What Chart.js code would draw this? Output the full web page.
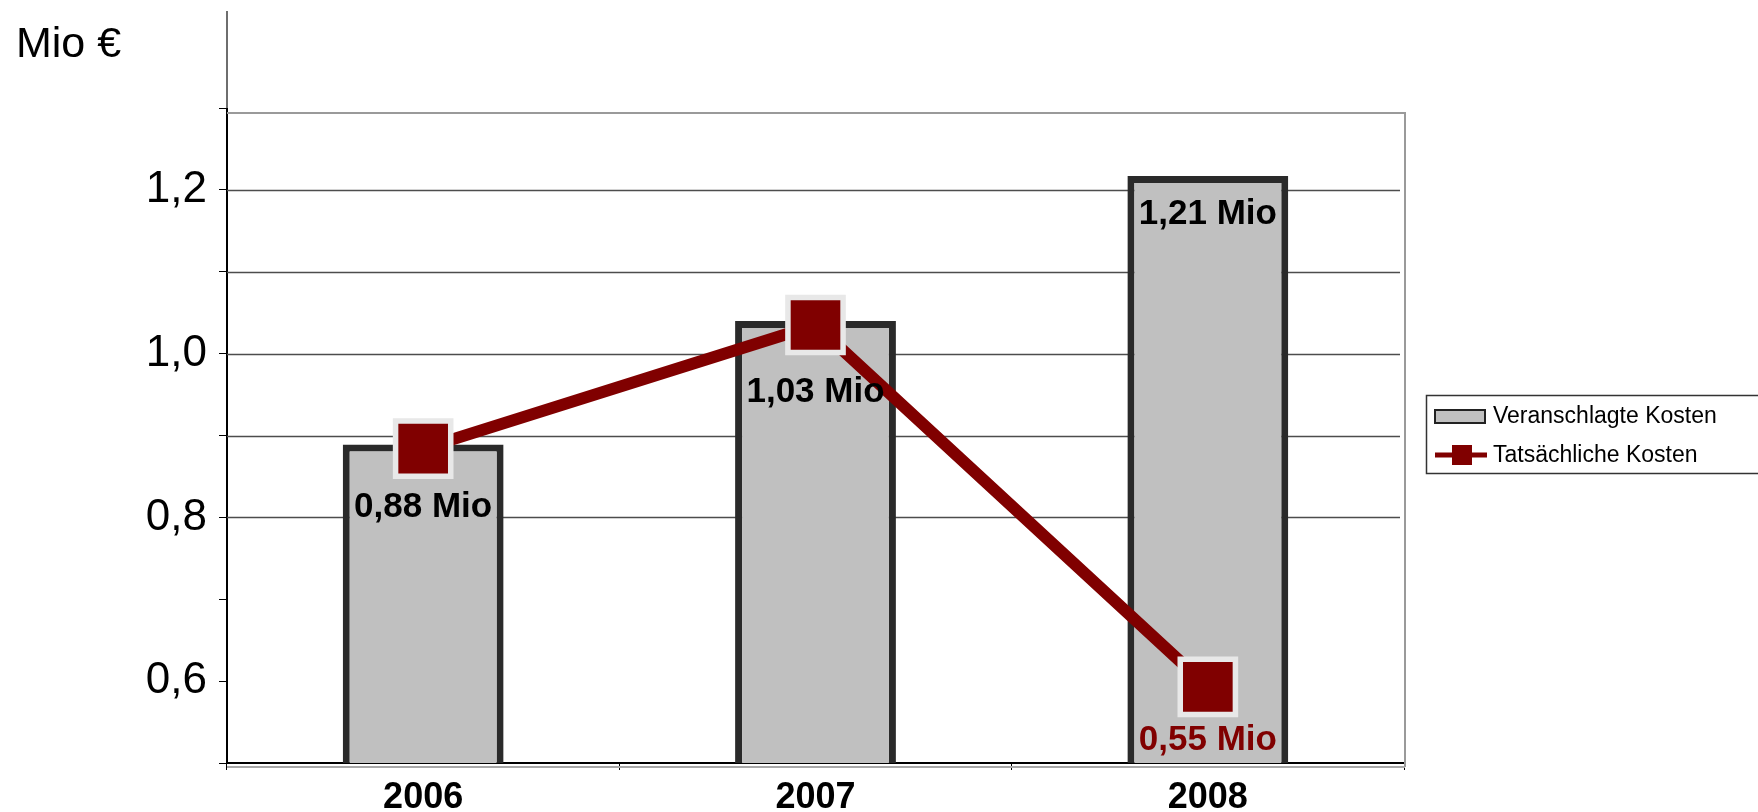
<!DOCTYPE html>
<html>
<head>
<meta charset="utf-8">
<script src="https://cdn.jsdelivr.net/npm/chart.js@4.4.1/dist/chart.umd.min.js"></script>
<style>
  html, body { margin: 0; padding: 0; background: #fff; }
  canvas { display: block; }
</style>
</head>
<body>
<canvas id="kostenChart" width="1758" height="812"></canvas>
<script>
const years = ['2006', '2007', '2008'];
const veranschlagt = [0.889, 1.040, 1.217];
const tatsaechlich = [0.884, 1.035, 0.593];
const barLabels = ['0,88 Mio', '1,03 Mio', '1,21 Mio'];
const lineLabels = ['', '', '0,55 Mio'];
const yLabelTicks = [0.6, 0.8, 1.0, 1.2];

const FONT = "'Liberation Sans', Arial, sans-serif";

// frame, extra axis bits, data labels and legend
const extras = {
  id: 'extras',
  beforeDatasetsDraw(chart) {
    const { ctx, chartArea: a, scales: { y } } = chart;
    const frameRight = a.right + 1;
    const frameTop = a.top + 5;
    ctx.save();
    // gridlines 0.8 .. 1.2
    ctx.strokeStyle = '#4d4d4d';
    ctx.lineWidth = 1.5;
    y.ticks.forEach(t => {
      if (t.value > 0.75 && t.value < 1.25) {
        const py = Math.round(y.getPixelForValue(t.value)) + 0.5;
        ctx.beginPath();
        ctx.moveTo(a.left, py);
        ctx.lineTo(frameRight - 5, py);
        ctx.stroke();
      }
    });
    // light frame
    ctx.strokeStyle = '#9a9a9a';
    ctx.lineWidth = 2;
    ctx.beginPath();
    ctx.moveTo(a.left, frameTop);
    ctx.lineTo(frameRight, frameTop);
    ctx.lineTo(frameRight, a.bottom + 4);
    ctx.stroke();
    // second line below the x axis
    ctx.strokeStyle = '#a8a8a8';
    ctx.beginPath();
    ctx.moveTo(a.left, a.bottom + 4);
    ctx.lineTo(frameRight, a.bottom + 4);
    ctx.stroke();
    // y axis running up past the plot
    ctx.strokeStyle = '#6e6e6e';
    ctx.beginPath();
    ctx.moveTo(a.left, 11);
    ctx.lineTo(a.left, a.top);
    ctx.stroke();
    ctx.restore();
  },
  afterDatasetsDraw(chart) {
    const { ctx } = chart;
    const bars = chart.getDatasetMeta(1).data;
    const points = chart.getDatasetMeta(0).data;
    const barOffsets = [63, 71, 38];
    ctx.save();
    ctx.font = 'bold 35px ' + FONT;
    ctx.textAlign = 'center';
    ctx.textBaseline = 'middle';
    ctx.fillStyle = '#000';
    bars.forEach((b, i) => ctx.fillText(barLabels[i], b.x, b.y + barOffsets[i]));
    ctx.fillStyle = '#800000';
    points.forEach((p, i) => {
      if (lineLabels[i]) ctx.fillText(lineLabels[i], p.x, p.y + 53);
    });

    // axis title
    ctx.font = '43px ' + FONT;
    ctx.textAlign = 'left';
    ctx.textBaseline = 'alphabetic';
    ctx.fillStyle = '#000';
    ctx.fillText('Mio €', 16, 57);

    // legend
    const ds = chart.data.datasets;
    ctx.strokeStyle = '#333';
    ctx.lineWidth = 1.5;
    ctx.strokeRect(1426.5, 395.5, 400, 78);
    ctx.fillStyle = ds[1].backgroundColor;
    ctx.fillRect(1435, 410, 50, 13);
    ctx.strokeStyle = '#222';
    ctx.lineWidth = 2;
    ctx.strokeRect(1435, 410, 50, 13);
    ctx.strokeStyle = ds[0].borderColor;
    ctx.lineWidth = 5;
    ctx.beginPath();
    ctx.moveTo(1435, 455);
    ctx.lineTo(1487, 455);
    ctx.stroke();
    ctx.fillStyle = ds[0].pointBackgroundColor;
    ctx.fillRect(1452, 445, 20, 20);
    ctx.font = '23px ' + FONT;
    ctx.fillStyle = '#000';
    ctx.fillText(ds[1].label, 1493, 423);
    ctx.fillText(ds[0].label, 1493, 462);
    ctx.restore();
  }
};

new Chart(document.getElementById('kostenChart'), {
  data: {
    labels: years,
    datasets: [
      {
        type: 'line',
        label: 'Tatsächliche Kosten',
        data: tatsaechlich,
        borderColor: '#800000',
        borderWidth: 12,
        tension: 0,
        pointStyle: 'rect',
        pointRadius: 39,
        pointHoverRadius: 39,
        pointBackgroundColor: '#800000',
        pointBorderColor: '#e8e8e8',
        pointBorderWidth: 5.5,
        clip: false,
        order: 0
      },
      {
        type: 'bar',
        label: 'Veranschlagte Kosten',
        data: veranschlagt,
        backgroundColor: '#c0c0c0',
        borderColor: '#2a2a2a',
        borderWidth: 7,
        borderSkipped: false,
        barPercentage: 0.41,
        categoryPercentage: 1,
        order: 1
      }
    ]
  },
  options: {
    responsive: false,
    animation: false,
    layout: { padding: { top: 108, right: 354, bottom: 0, left: 0 } },
    plugins: {
      legend: { display: false },
      tooltip: { enabled: false }
    },
    scales: {
      x: {
        afterFit: s => { s.height = 49; },
        border: { color: '#000', width: 2 },
        grid: { offset: true, drawOnChartArea: false, tickLength: 7, tickColor: '#000' },
        ticks: {
          color: '#000',
          padding: 6,
          font: { family: FONT, size: 36, weight: 'bold' }
        }
      },
      y: {
        min: 0.5,
        max: 1.3,
        afterFit: s => { s.width = 227; },
        border: { color: '#000', width: 2 },
        grid: { drawOnChartArea: false, tickLength: 8, tickColor: '#000' },
        ticks: {
          stepSize: 0.1,
          padding: 12,
          color: '#000',
          font: { family: FONT, size: 44 },
          callback: v => yLabelTicks.some(t => Math.abs(t - v) < 0.001)
            ? v.toFixed(1).replace('.', ',') : ''
        }
      }
    }
  },
  plugins: [extras]
});
</script>
</body>
</html>
